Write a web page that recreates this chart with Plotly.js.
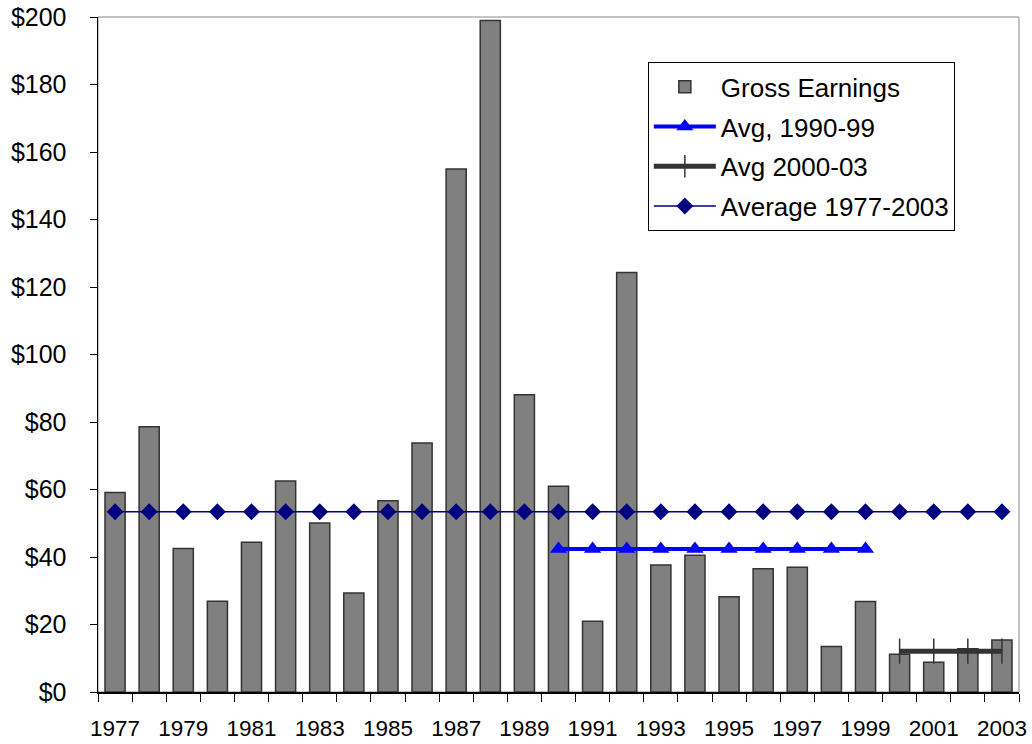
<!DOCTYPE html>
<html>
<head>
<meta charset="utf-8">
<script src="https://cdn.plot.ly/plotly-3.0.1.min.js"></script>
<style>html,body{margin:0;padding:0;background:#fff;}#chart{width:1032px;height:744px;}</style>
</head>
<body>
<div id="chart"></div>
<script>
var years = [1977,1978,1979,1980,1981,1982,1983,1984,1985,1986,1987,1988,1989,1990,1991,1992,1993,1994,1995,1996,1997,1998,1999,2000,2001,2002,2003];
var grossEarnings = [59.1,78.6,42.5,26.9,44.4,62.5,50.1,29.3,56.7,73.8,155.0,199.0,88.1,61.0,21.0,124.3,37.6,40.5,28.2,36.5,37.0,13.5,26.8,11.2,8.8,12.8,15.4];
var years90s = [1990,1991,1992,1993,1994,1995,1996,1997,1998,1999];
var avg90s = [42.4,42.4,42.4,42.4,42.4,42.4,42.4,42.4,42.4,42.4];
var years00s = [2000,2001,2002,2003];
var avg00s = [12.1,12.1,12.1,12.1];
var avgAll = [53.4,53.4,53.4,53.4,53.4,53.4,53.4,53.4,53.4,53.4,53.4,53.4,53.4,53.4,53.4,53.4,53.4,53.4,53.4,53.4,53.4,53.4,53.4,53.4,53.4,53.4,53.4];
var xTickYears = [1977,1979,1981,1983,1985,1987,1989,1991,1993,1995,1997,1999,2001,2003];
var yTicks = [0,20,40,60,80,100,120,140,160,180,200];
var yTickText = ['$0','$20','$40','$60','$80','$100','$120','$140','$160','$180','$200'];

var font = 'Liberation Sans, Arial, sans-serif';

var traces = [
  {type:'bar', name:'Gross Earnings', x:years, y:grossEarnings, legendgroup:'a',
   marker:{color:'#808080', line:{color:'#333333', width:1.5}}},
  {type:'scatter', mode:'lines+markers', name:'Avg, 1990-99', x:years90s, y:avg90s, legendgroup:'b',
   line:{color:'#0000FF', width:4}, marker:{symbol:'triangle-up', size:15, color:'#0000FF'}},
  {type:'scatter', mode:'lines+markers', name:'Avg 2000-03', x:years00s, y:avg00s, legendgroup:'c',
   line:{color:'#333333', width:5}, marker:{symbol:'line-ns', size:18, line:{color:'#333333', width:1.5}}},
  {type:'scatter', mode:'lines+markers', name:'Average 1977-2003', x:years, y:avgAll, legendgroup:'d',
   line:{color:'#000080', width:1.5}, marker:{symbol:'diamond', size:13, color:'#000080'}}
];

var layout = {
  width:1032, height:744,
  margin:{l:98, r:13, t:17, b:52},
  paper_bgcolor:'#fff', plot_bgcolor:'#fff',
  font:{family:font, size:22, color:'#000'},
  bargap:0.41,
  showlegend:true,
  legend:{x:0.597, y:0.933, xanchor:'left', yanchor:'top',
    bgcolor:'#fff', bordercolor:'#000', borderwidth:1,
    font:{family:font, size:26, color:'#000'}, traceorder:'grouped',
    tracegroupgap:3, itemwidth:62},
  xaxis:{range:[1976.5,2003.5], tickmode:'array', tickvals:xTickYears,
    ticktext:xTickYears.map(String), ticks:'', showgrid:false, zeroline:false,
    showline:true, linecolor:'#000', linewidth:1.5, ticklabelstandoff:15,
    tickfont:{family:font, size:22.5, color:'#000'},
    minor:{ticks:'outside', tick0:1976.5, dtick:1, ticklen:8, tickcolor:'#000', tickwidth:1, showgrid:false}},
  yaxis:{range:[0,200], tickmode:'array', tickvals:yTicks, ticktext:yTickText,
    ticks:'outside', ticklen:7, tickcolor:'#000', showgrid:false, zeroline:false,
    showline:true, linecolor:'#000', linewidth:1.5, ticklabelstandoff:18,
    tickfont:{family:font, size:25, color:'#000'}},
  shapes:[{type:'rect', xref:'paper', yref:'paper', x0:0, x1:1, y0:0, y1:1,
    line:{color:'#888888', width:1}, layer:'below'}]
};

Plotly.newPlot('chart', traces, layout, {displayModeBar:false, staticPlot:true});
</script>
</body>
</html>
